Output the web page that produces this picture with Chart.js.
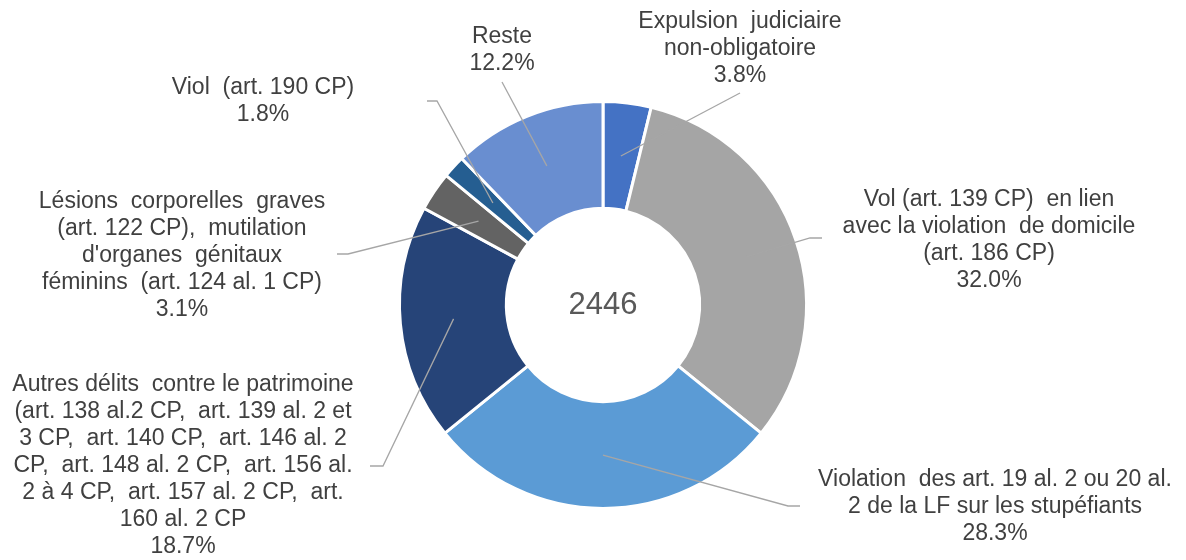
<!DOCTYPE html>
<html lang="fr">
<head>
  <meta charset="UTF-8" />
  <title>Répartition des expulsions</title>
  <script src="https://cdn.jsdelivr.net/npm/chart.js"></script>
  <style>
    html, body { margin: 0; padding: 0; background: #fff; }
    #wrap { width: 1186px; height: 560px; position: relative; }
  </style>
</head>
<body>
  <div id="wrap"><canvas id="pie" width="1186" height="560"></canvas></div>
  <script>
    // data
    const categories = [
      ['Expulsion  judiciaire', 'non-obligatoire'],
      ['Vol (art. 139 CP)  en lien', 'avec la violation  de domicile', '(art. 186 CP)'],
      ['Violation  des art. 19 al. 2 ou 20 al.', '2 de la LF sur les stupéfiants'],
      ['Autres délits  contre le patrimoine', '(art. 138 al.2 CP,  art. 139 al. 2 et', '3 CP,  art. 140 CP,  art. 146 al. 2', 'CP,  art. 148 al. 2 CP,  art. 156 al.', '2 à 4 CP,  art. 157 al. 2 CP,  art.', '160 al. 2 CP'],
      ['Lésions  corporelles  graves', '(art. 122 CP),  mutilation', "d'organes  génitaux", 'féminins  (art. 124 al. 1 CP)'],
      ['Viol  (art. 190 CP)'],
      ['Reste']
    ];
    const shares = [3.8, 32.0, 28.3, 18.7, 3.1, 1.8, 12.2];
    const total = 2446;
    const colors = ['#4472C4', '#A5A5A5', '#5B9BD5', '#264478', '#636363', '#255E91', '#698ED0'];

    // label placement: text centre x, first line centre y, leader elbow x/y, leader end x
    const labelPos = [
      { x: 740, y: 22,  ex: 740, ey: 93,  endX: 740 },
      { x: 989, y: 200, ex: 810, ey: 238, endX: 822 },
      { x: 995, y: 480, ex: 788, ey: 506, endX: 800 },
      { x: 183, y: 385, ex: 383, ey: 466, endX: 370 },
      { x: 182, y: 202, ex: 348, ey: 254, endX: 337 },
      { x: 263, y: 88,  ex: 437, ey: 101, endX: 427 },
      { x: 502, y: 37,  ex: 502, ey: 82,  endX: 502 }
    ];

    const FONT = '"Liberation Sans", Arial, sans-serif';
    const LINE_H = 27;

    const labelPlugin = {
      id: 'leaderLabels',
      afterDatasetsDraw(chart) {
        const ctx = chart.ctx;
        const arcs = chart.getDatasetMeta(0).data;
        ctx.save();
        arcs.forEach((arc, i) => {
          const p = arc.getProps(['x', 'y', 'startAngle', 'endAngle', 'innerRadius', 'outerRadius'], true);
          const mid = (p.startAngle + p.endAngle) / 2;
          const r = (p.innerRadius + p.outerRadius) / 2;
          const sx = p.x + Math.cos(mid) * r, sy = p.y + Math.sin(mid) * r;
          const L = labelPos[i];
          ctx.strokeStyle = '#A6A6A6';
          ctx.lineWidth = 1.3;
          ctx.beginPath();
          ctx.moveTo(sx, sy);
          ctx.lineTo(L.ex, L.ey);
          ctx.lineTo(L.endX, L.ey);
          ctx.stroke();

          const lines = categories[i].concat([shares[i].toFixed(1) + '%']);
          ctx.fillStyle = '#404040';
          ctx.font = '23px ' + FONT;
          ctx.textAlign = 'center';
          ctx.textBaseline = 'middle';
          lines.forEach((t, k) => ctx.fillText(t, L.x, L.y + k * LINE_H));
        });
        // centre total
        const a = arcs[0];
        ctx.fillStyle = '#595959';
        ctx.font = '31px ' + FONT;
        ctx.textAlign = 'center';
        ctx.textBaseline = 'middle';
        ctx.fillText(String(total), a.x, a.y);
        ctx.restore();
      }
    };

    new Chart(document.getElementById('pie'), {
      type: 'doughnut',
      data: {
        labels: categories.map(c => c.join(' ')),
        datasets: [{
          data: shares,
          backgroundColor: colors,
          borderColor: '#ffffff',
          borderWidth: 3,
          hoverOffset: 0
        }]
      },
      options: {
        responsive: false,
        animation: false,
        cutout: '47.5%',
        layout: { padding: { top: 100, bottom: 50, left: 398, right: 378 } },
        plugins: { legend: { display: false }, tooltip: { enabled: false } }
      },
      plugins: [labelPlugin]
    });
  </script>
</body>
</html>
